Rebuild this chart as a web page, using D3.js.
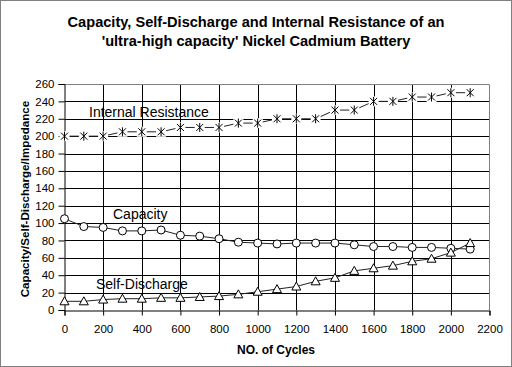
<!DOCTYPE html>
<html lang="en">
<head>
<meta charset="UTF-8">
<title>NiCd battery</title>
<script src="https://cdn.jsdelivr.net/npm/d3@7"></script>
<style>
    body { margin: 0; background: #fff; }
    text { font-family: "Liberation Sans", Arial, sans-serif; }
</style>
</head>
<body>
<div id="chart"></div>
<script>
var cycles = [0, 100, 200, 300, 400, 500, 600, 700, 800, 900, 1000, 1100, 1200, 1300, 1400, 1500, 1600, 1700, 1800, 1900, 2000, 2100];
var resistance = [200, 200, 200, 205, 205, 205, 210, 210, 210, 215, 215, 220, 220, 220, 230, 230, 240, 240, 245, 245, 250, 250];
var capacity = [105, 96, 95, 91, 91, 92, 86, 85, 82, 78, 77, 76, 77, 77, 77, 75, 73, 73, 72, 72, 71, 70];
var selfDischarge = [10, 10, 12, 13, 13, 14, 14, 15, 16, 18, 21, 24, 27, 33, 37, 45, 48, 51, 56, 59, 66, 77];
var xTicks = [0, 200, 400, 600, 800, 1000, 1200, 1400, 1600, 1800, 2000, 2200];
var yTicks = [0, 20, 40, 60, 80, 100, 120, 140, 160, 180, 200, 220, 240, 260];

var width = 512, height = 367;
var plotLeft = 64.5, plotRight = 489.5, plotTop = 84, plotBottom = 310;

var svg = d3.select("#chart").append("svg")
    .attr("width", width)
    .attr("height", height);

// dotted chart border
svg.append("rect")
    .attr("x", 0.5).attr("y", 0.5)
    .attr("width", width - 1).attr("height", height - 1)
    .attr("fill", "none")
    .attr("stroke", "#000")
    .attr("stroke-dasharray", "1,1");

var x = d3.scaleLinear().domain([0, 2200]).range([plotLeft, plotRight]);
var y = d3.scaleLinear().domain([0, 260]).range([plotBottom, plotTop]);

// gridlines
svg.append("g").selectAll("line")
    .data(yTicks.slice(1, -1))
    .enter().append("line")
    .attr("x1", plotLeft).attr("x2", plotRight)
    .attr("y1", function(d) { return Math.round(y(d)) + 0.5; })
    .attr("y2", function(d) { return Math.round(y(d)) + 0.5; })
    .attr("stroke", "#000");
svg.append("g").selectAll("line")
    .data(xTicks.slice(1, -1))
    .enter().append("line")
    .attr("y1", plotTop).attr("y2", plotBottom)
    .attr("x1", function(d) { return Math.round(x(d)) + 0.5; })
    .attr("x2", function(d) { return Math.round(x(d)) + 0.5; })
    .attr("stroke", "#000");

// plot frame (grey top/right)
svg.append("path")
    .attr("d", "M" + plotLeft + "," + (plotTop + 0.5) + "H" + plotRight + "V" + plotBottom)
    .attr("fill", "none")
    .attr("stroke", "#808080");

// axes
var xAxis = svg.append("g")
    .attr("transform", "translate(0," + (plotBottom + 0.5) + ")")
    .call(d3.axisBottom(x).tickValues(xTicks).tickSize(5).tickPadding(9).tickFormat(d3.format("d")));
var yAxis = svg.append("g")
    .attr("transform", "translate(" + plotLeft + ",0)")
    .call(d3.axisLeft(y).tickValues(yTicks).tickSize(6).tickPadding(4).tickFormat(d3.format("d")));
[xAxis, yAxis].forEach(function(a) {
    a.select(".domain").attr("stroke", "#000");
    a.selectAll(".tick line").attr("stroke", "#000");
    a.selectAll("text")
        .attr("font-family", "Liberation Sans, Arial, sans-serif")
        .attr("font-size", "11.5px")
        .attr("fill", "#000");
});

// series lines
var line = function(vals) {
    return d3.line()
        .x(function(d, i) { return x(cycles[i]); })
        .y(function(d) { return y(d); })(vals);
};
[resistance, capacity, selfDischarge].forEach(function(vals) {
    svg.append("path")
        .attr("d", line(vals))
        .attr("fill", "none")
        .attr("stroke", "#222")
        .attr("stroke-width", 1);
});

// capacity markers: circles
svg.append("g").selectAll("circle")
    .data(capacity)
    .enter().append("circle")
    .attr("cx", function(d, i) { return x(cycles[i]); })
    .attr("cy", function(d) { return y(d); })
    .attr("r", 4)
    .attr("fill", "#fff")
    .attr("stroke", "#000");

// self-discharge markers: triangles
svg.append("g").selectAll("path")
    .data(selfDischarge)
    .enter().append("path")
    .attr("transform", function(d, i) { return "translate(" + x(cycles[i]) + "," + y(d) + ")"; })
    .attr("d", "M0,-4.5L4.5,3.5L-4.5,3.5Z")
    .attr("fill", "#fff")
    .attr("stroke", "#000");

// resistance markers: star (x + vertical)
var stars = svg.append("g").selectAll("g")
    .data(resistance)
    .enter().append("g")
    .attr("transform", function(d, i) { return "translate(" + x(cycles[i]) + "," + y(d) + ")"; });
stars.append("rect")
    .attr("x", -5).attr("y", -5).attr("width", 10).attr("height", 10)
    .attr("fill", "#fff");
stars.append("path")
    .attr("d", "M-3.5,-3.5L3.5,3.5M-3.5,3.5L3.5,-3.5M0,-4.5V4.5")
    .attr("stroke", "#000")
    .attr("stroke-width", 1);

// series labels
var labels = [["Internal Resistance", 89, 117], ["Capacity", 113, 219], ["Self-Discharge", 96, 289]];
svg.append("g").selectAll("text")
    .data(labels)
    .enter().append("text")
    .attr("x", function(d) { return d[1]; })
    .attr("y", function(d) { return d[2]; })
    .attr("font-size", "14px")
    .attr("fill", "#000")
    .text(function(d) { return d[0]; });

// title
svg.append("text")
    .attr("x", 256).attr("y", 27)
    .attr("text-anchor", "middle")
    .attr("font-size", "14.6px").attr("font-weight", "bold")
    .text("Capacity, Self-Discharge and Internal Resistance of an");
svg.append("text")
    .attr("x", 256).attr("y", 46)
    .attr("text-anchor", "middle")
    .attr("font-size", "14.6px").attr("font-weight", "bold")
    .text("'ultra-high capacity' Nickel Cadmium Battery");

// axis titles
svg.append("text")
    .attr("x", 276).attr("y", 354)
    .attr("text-anchor", "middle")
    .attr("font-size", "12px").attr("font-weight", "bold")
    .text("NO. of Cycles");
svg.append("text")
    .attr("transform", "translate(29,199) rotate(-90)")
    .attr("text-anchor", "middle")
    .attr("font-size", "11.6px").attr("font-weight", "bold")
    .text("Capacity/Self-Discharge/Impedance");
</script>
</body>
</html>
